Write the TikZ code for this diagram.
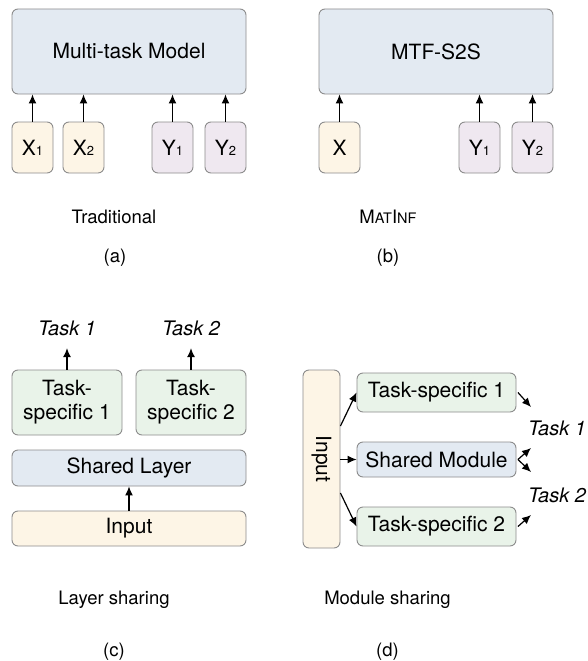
\documentclass[tikz,border=0pt]{standalone}
\usepackage{fontspec}
\setmainfont{TeX Gyre Heros}
\usepackage{xcolor}
\usetikzlibrary{arrows.meta}
\definecolor{boxline}{HTML}{8C8C8C}
\definecolor{sharedfill}{HTML}{E3EAF2}
\definecolor{inputfill}{HTML}{FDF5E6}
\definecolor{outfill}{HTML}{EFE8F0}
\definecolor{taskfill}{HTML}{E9F3E9}

\begin{document}
\begin{tikzpicture}[x=1pt, y=-1pt,
	box/.style={draw=boxline, line width=0.9pt, rounded corners=6pt, inner sep=0pt, align=center, font=\fontsize{21}{24}\selectfont},
	subcap/.style={anchor=base, inner sep=0pt, font=\fontsize{18.5}{22}\selectfont},
	task/.style={inner sep=12.5pt, font=\fontsize{20}{24}\selectfont\itshape},
	arr/.style={-{Latex[length=9pt,width=8pt]}, line width=1.2pt}]
	\useasboundingbox (0, 0) rectangle (587, 661);
	% (a)
	\node [box, fill=sharedfill, minimum width=234, minimum height=85] (0) at (129, 51.5) {Multi-task Model};
	\node [box, fill=inputfill, minimum width=41, minimum height=51] (1) at (32.5, 147.5) {X{\fontsize{13}{13}\selectfont 1}};
	\node [box, fill=inputfill, minimum width=41, minimum height=51] (2) at (83.5, 147.5) {X{\fontsize{13}{13}\selectfont 2}};
	\node [box, fill=outfill, minimum width=41, minimum height=51] (3) at (172.5, 147.5) {Y{\fontsize{13}{13}\selectfont 1}};
	\node [box, fill=outfill, minimum width=41, minimum height=51] (4) at (225.5, 147.5) {Y{\fontsize{13}{13}\selectfont 2}};
	\draw [arr] (1) to (1 |- 0.south);
	\draw [arr] (2) to (2 |- 0.south);
	\draw [arr] (3) to (3 |- 0.south);
	\draw [arr] (4) to (4 |- 0.south);
	\node [subcap] (a1) at (114, 223) {Traditional};
	\node [subcap] (a2) at (115, 262) {(a)};
	% (b)
	\node [box, fill=sharedfill, minimum width=234, minimum height=85] (10) at (436, 51.5) {MTF-S2S};
	\node [box, fill=inputfill, minimum width=41, minimum height=51] (11) at (339.5, 147.5) {X};
	\node [box, fill=outfill, minimum width=41, minimum height=51] (12) at (479.5, 147.5) {Y{\fontsize{13}{13}\selectfont 1}};
	\node [box, fill=outfill, minimum width=41, minimum height=51] (13) at (532.5, 147.5) {Y{\fontsize{13}{13}\selectfont 2}};
	\draw [arr] (11) to (11 |- 10.south);
	\draw [arr] (12) to (12 |- 10.south);
	\draw [arr] (13) to (13 |- 10.south);
	\node [subcap] (b1) at (388, 223) {M{\fontsize{14.5}{14.5}\selectfont AT}I{\fontsize{14.5}{14.5}\selectfont NF}};
	\node [subcap] (b2) at (388, 262) {(b)};
	% (c)
	\node [box, fill=taskfill, minimum width=110, minimum height=65] (20) at (67, 402.5) {Task-\\specific 1};
	\node [box, fill=taskfill, minimum width=110, minimum height=65] (21) at (191, 402.5) {Task-\\specific 2};
	\node [box, fill=sharedfill, minimum width=234, minimum height=36] (22) at (129, 468) {Shared Layer};
	\node [box, fill=inputfill, minimum width=234, minimum height=35] (23) at (129, 528.5) {Input};
	\node [task] (24) at (67, 328) {Task 1};
	\node [task] (25) at (191, 328) {Task 2};
	\draw [arr] (20) to (24);
	\draw [arr] (21) to (25);
	\draw [arr] (23) to (22);
	\node [subcap] (c1) at (114, 604) {Layer sharing};
	\node [subcap] (c2) at (114, 656) {(c)};
	% (d)
	\node [box, fill=inputfill, minimum width=37, minimum height=178] (30) at (321.5, 459) {\rotatebox{-90}{Input}};
	\node [box, fill=taskfill, minimum width=159, minimum height=39] (31) at (436.5, 392.5) {Task-specific 1};
	\node [box, fill=sharedfill, minimum width=159, minimum height=35] (32) at (436.5, 459.5) {Shared Module};
	\node [box, fill=taskfill, minimum width=159, minimum height=39] (33) at (436.5, 526.5) {Task-specific 2};
	\node [font=\fontsize{20}{24}\selectfont\itshape, inner sep=0pt] (34) at (557, 428) {Task 1};
	\node [font=\fontsize{20}{24}\selectfont\itshape, inner sep=0pt] (35) at (557, 495) {Task 2};
	\coordinate (36) at (531, 407);
	\coordinate (37) at (531, 448);
	\coordinate (38) at (531, 472);
	\coordinate (39) at (531, 515);
	\draw [arr] ([yshift=33pt]30.east) to (31.west);
	\draw [arr] (30.east |- 32.west) to (32.west);
	\draw [arr] ([yshift=-34pt]30.east) to (33.west);
	\draw [arr] ([xshift=1.5pt]31.east) to (36);
	\draw [arr] ([xshift=1.5pt]32.east) to (37);
	\draw [arr] ([xshift=1.5pt]32.east) to (38);
	\draw [arr] ([xshift=1.5pt]33.east) to (39);
	\node [subcap] (d1) at (387.5, 604) {Module sharing};
	\node [subcap] (d2) at (387.5, 656) {(d)};
\end{tikzpicture}
\end{document}
